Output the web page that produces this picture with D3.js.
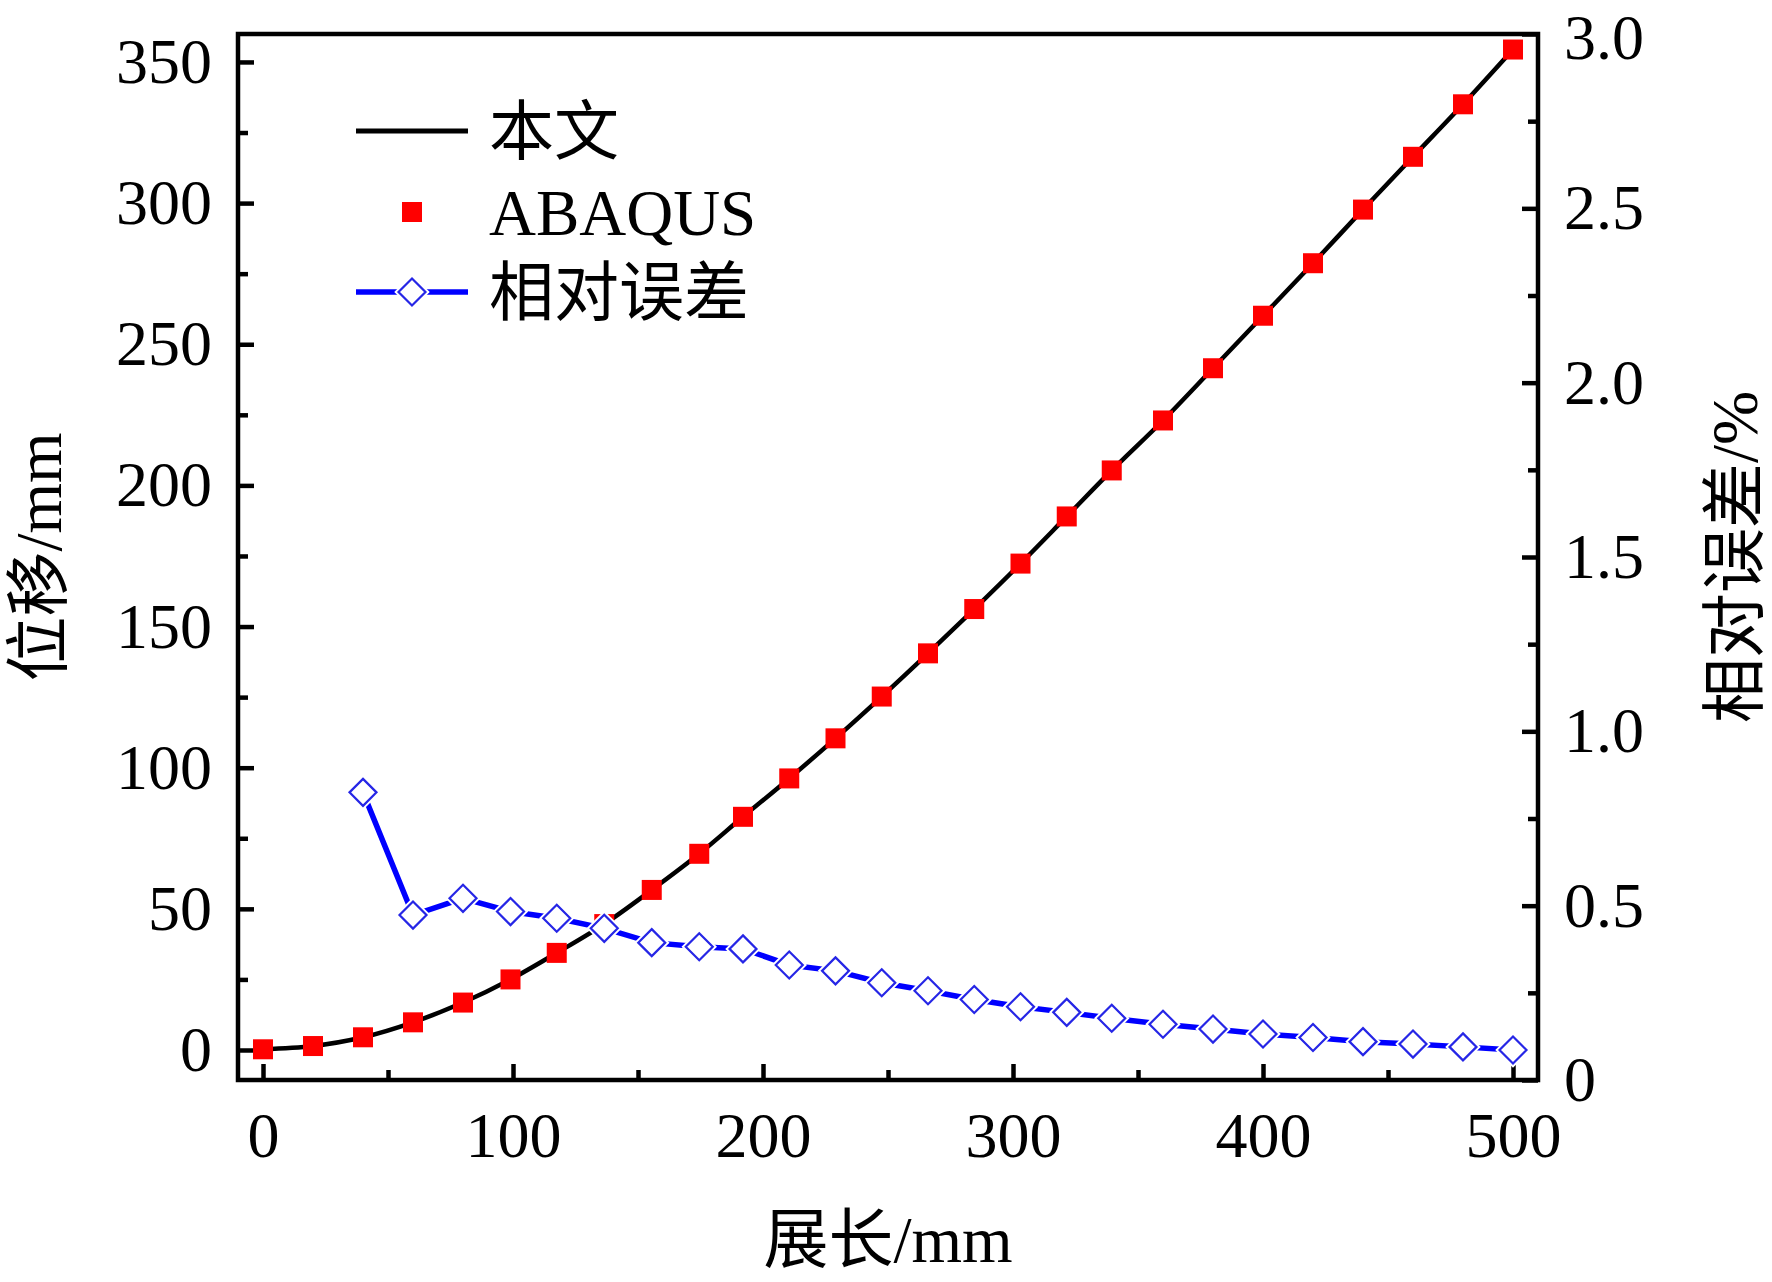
<!DOCTYPE html>
<html>
<head>
<meta charset="utf-8">
<script src="https://cdn.jsdelivr.net/npm/d3@7/dist/d3.min.js"></script>
<style>
  html, body { margin: 0; padding: 0; background: #fff; }
  svg { display: block; }
  text { font-family: "Liberation Serif", "Noto Sans CJK SC", serif; fill: #000; }
</style>
</head>
<body>
<svg id="chart" width="1772" height="1282"></svg>
<script>
// ---- data ----
const spanX = [0,20,40,60,80,99,117.5,136.5,155.5,174.5,192,210.5,229,247.5,266,284.5,303,321.5,339.5,360,380,400,420,440,460,480,500];
const paperValues = [0.25,1.4,4.5,9.8,16.8,25.0,34.4,44.6,56.7,69.5,82.6,96.2,110.4,125.2,140.5,156.2,172.3,189.0,205.3,223.0,241.5,260.1,278.7,297.7,316.4,335.0,354.4];
const abaqusValues = [0.25,1.4,4.5,9.8,16.8,25.0,34.4,44.6,56.7,69.5,82.6,96.2,110.4,125.2,140.5,156.2,172.3,189.0,205.3,223.0,241.5,260.1,278.7,297.7,316.4,335.0,354.4];
const errorValues = [null,null,0.825,0.473,0.521,0.483,0.464,0.435,0.394,0.382,0.376,0.330,0.313,0.279,0.256,0.231,0.210,0.194,0.177,0.160,0.146,0.132,0.122,0.110,0.103,0.095,0.086];

const xTicks = [0,100,200,300,400,500];
const xMinorTicks = [50,150,250,350,450];
const yLeftTicks = [0,50,100,150,200,250,300,350];
const yLeftMinorTicks = [25,75,125,175,225,275,325];
const yRightTicks = [0,0.5,1.0,1.5,2.0,2.5,3.0];
const yRightTickLabels = ["0","0.5","1.0","1.5","2.0","2.5","3.0"];
const yRightMinorTicks = [0.25,0.75,1.25,1.75,2.25,2.75];

const legendLabels = ["本文","ABAQUS","相对误差"];
const xTitle = "展长/mm";
const yLeftTitle = "位移/mm";
const yRightTitle = "相对误差/%";

// ---- layout ----
const L = 238, R = 1538, T = 34, B = 1080;
const svg = d3.select("#chart");

const x = d3.scaleLinear().domain([-10, 510]).range([L, R]);
const yL = d3.scaleLinear().domain([-10.63, 359.9]).range([B, T]);
const yR = d3.scaleLinear().domain([0, 3]).range([B, T]);

const FS = 64;
const TW = 4.5;

function styleAxis(g) {
  g.select(".domain").remove();
  g.selectAll("line").attr("stroke", "#000").attr("stroke-width", TW);
  g.selectAll("text").attr("font-family", "Liberation Serif, serif").attr("font-size", FS).attr("fill", "#000");
  g.attr("font-family", null);
}

// bottom axis
svg.append("g").attr("transform", `translate(0,${B})`)
  .call(d3.axisBottom(x).tickValues(xTicks).tickFormat(d3.format("d")).tickSizeInner(-16).tickSizeOuter(0).tickPadding(32))
  .call(styleAxis);
svg.append("g").attr("transform", `translate(0,${B})`)
  .call(d3.axisBottom(x).tickValues(xMinorTicks).tickFormat("").tickSizeInner(-10).tickSizeOuter(0))
  .call(styleAxis);

// left axis
svg.append("g").attr("transform", `translate(${L},0)`)
  .call(d3.axisLeft(yL).tickValues(yLeftTicks).tickFormat(d3.format("d")).tickSizeInner(-16).tickSizeOuter(0).tickPadding(26))
  .call(styleAxis);
svg.append("g").attr("transform", `translate(${L},0)`)
  .call(d3.axisLeft(yL).tickValues(yLeftMinorTicks).tickFormat("").tickSizeInner(-10).tickSizeOuter(0))
  .call(styleAxis);

// right axis
const rAxis = svg.append("g").attr("transform", `translate(${R},0)`)
  .call(d3.axisRight(yR).tickValues(yRightTicks).tickFormat((d,i) => yRightTickLabels[i]).tickSizeInner(-16).tickSizeOuter(0).tickPadding(26))
  .call(styleAxis);
// keep the top label's box inside the page
rAxis.selectAll(".tick").filter(d => d === 3.0).select("text").attr("dy", "0.38em");
svg.append("g").attr("transform", `translate(${R},0)`)
  .call(d3.axisRight(yR).tickValues(yRightMinorTicks).tickFormat("").tickSizeInner(-10).tickSizeOuter(0))
  .call(styleAxis);

// frame
svg.append("rect").attr("x", L).attr("y", T).attr("width", R - L).attr("height", B - T)
  .attr("fill", "none").attr("stroke", "#000").attr("stroke-width", TW);

// ---- series ----
const pts = spanX.map((d, i) => ({x: d, p: paperValues[i], a: abaqusValues[i], e: errorValues[i]}));

// 本文 line
svg.append("path").datum(pts)
  .attr("fill", "none").attr("stroke", "#000").attr("stroke-width", 4.5)
  .attr("d", d3.line().x(d => x(d.x)).y(d => yL(d.p)).curve(d3.curveMonotoneX));

// ABAQUS squares
const sq = 20;
svg.append("g").selectAll("rect").data(pts).join("rect")
  .attr("x", d => x(d.x) - sq / 2).attr("y", d => yL(d.a) - sq / 2)
  .attr("width", sq).attr("height", sq).attr("fill", "#ff0000");

// relative error line
const ePts = pts.filter(d => d.e !== null);
svg.append("path").datum(ePts)
  .attr("fill", "none").attr("stroke", "#0000ff").attr("stroke-width", 5.5)
  .attr("d", d3.line().x(d => x(d.x)).y(d => yR(d.e)));

const dia = 13.5;
const diamondPath = d => {
  const cx = x(d.x), cy = yR(d.e);
  return `M${cx},${cy - dia}L${cx + dia},${cy}L${cx},${cy + dia}L${cx - dia},${cy}Z`;
};
svg.append("g").selectAll("path").data(ePts).join("path")
  .attr("d", diamondPath).attr("fill", "#fff").attr("stroke", "#fff").attr("stroke-width", 6);
svg.append("g").selectAll("path").data(ePts).join("path")
  .attr("d", diamondPath).attr("fill", "#fff").attr("stroke", "#2626e6").attr("stroke-width", 2.2);

// ---- legend ----
const lg = svg.append("g");
const rowY = [131, 212, 292];
const lx0 = 356, lx1 = 468, lxm = 412, tx = 489;
lg.append("line").attr("x1", lx0).attr("x2", lx1).attr("y1", rowY[0]).attr("y2", rowY[0])
  .attr("stroke", "#000").attr("stroke-width", 5);
lg.append("rect").attr("x", lxm - 10).attr("y", rowY[1] - 10).attr("width", 20).attr("height", 20).attr("fill", "#ff0000");
lg.append("line").attr("x1", lx0).attr("x2", lx1).attr("y1", rowY[2]).attr("y2", rowY[2])
  .attr("stroke", "#0000ff").attr("stroke-width", 5.5);
lg.append("path")
  .attr("d", `M${lxm},${rowY[2] - dia}L${lxm + dia},${rowY[2]}L${lxm},${rowY[2] + dia}L${lxm - dia},${rowY[2]}Z`)
  .attr("fill", "#fff").attr("stroke", "#fff").attr("stroke-width", 6);
lg.append("path")
  .attr("d", `M${lxm},${rowY[2] - dia}L${lxm + dia},${rowY[2]}L${lxm},${rowY[2] + dia}L${lxm - dia},${rowY[2]}Z`)
  .attr("fill", "#fff").attr("stroke", "#2626e6").attr("stroke-width", 2.2);
legendLabels.forEach((t, i) => {
  lg.append("text").attr("x", tx).attr("y", rowY[i]).attr("dy", "0.35em")
    .attr("font-size", 65).text(t);
});

// ---- axis titles ----
svg.append("text").attr("x", (L + R) / 2).attr("y", 1262).attr("text-anchor", "middle")
  .attr("font-size", 65).text(xTitle);
svg.append("text").attr("transform", `translate(61,${(T + B) / 2}) rotate(-90)`)
  .attr("text-anchor", "middle").attr("font-size", 65).text(yLeftTitle);
svg.append("text").attr("transform", `translate(1757,${(T + B) / 2}) rotate(-90)`)
  .attr("text-anchor", "middle").attr("font-size", 65).text(yRightTitle);
</script>
</body>
</html>
